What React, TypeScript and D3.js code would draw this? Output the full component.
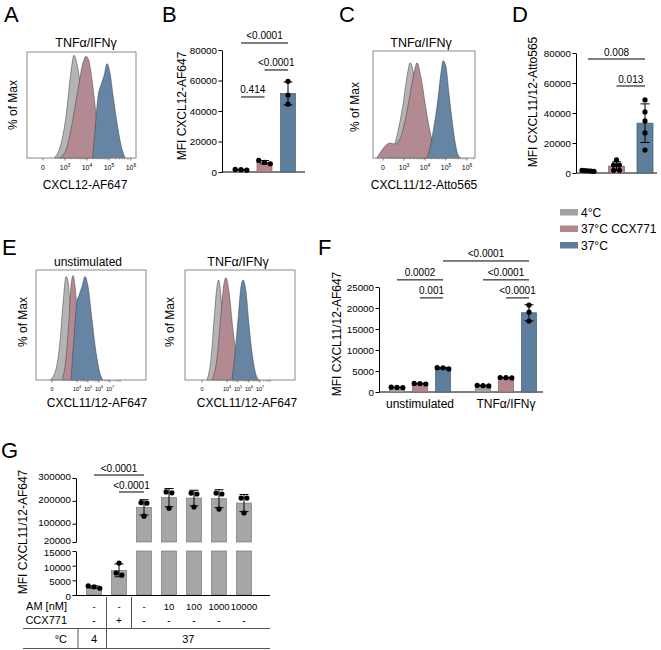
import React, { useRef, useEffect } from "react";
import * as d3 from "d3";

const FONT = "'Liberation Sans', Arial, Helvetica, sans-serif";

// legend / conditions
const conditions = ["4°C", "37°C CCX771", "37°C"];
const barFills = ["#a2a2a2", "#b5868e", "#5e7e9e"];
const histFills = ["#b4b4b4", "#b48a92", "#6685a5"];

type Pt = [number, number];

// A: histograms CXCL12-AF647 (x in decades, y in % of max)
const aGray: Pt[] = [[2.5, 0], [2.8, 12], [3.05, 40], [3.25, 78], [3.41, 97], [3.55, 88], [3.75, 62], [4.0, 32], [4.3, 10], [4.6, 0]];
const aPink: Pt[] = [[2.75, 0], [3.05, 8], [3.3, 30], [3.6, 66], [3.82, 90], [3.95, 96], [4.07, 93], [4.25, 70], [4.42, 40], [4.6, 13], [4.8, 2], [4.95, 0]];
const aBlue: Pt[] = [[4.25, 0], [4.36, 25], [4.5, 58], [4.64, 69], [4.78, 78], [4.91, 89], [5.05, 80], [5.18, 60], [5.36, 34], [5.55, 12], [5.73, 0]];
const histTicks = [2, 3, 4, 5, 6];
const histTickExp = [null, 3, 4, 5, 6];

// B: MFI CXCL12-AF647
const bReps = [[1200, 1500, 1700], [5400, 7600, 6300], [59500, 50500, 44500]];
const bTicks = [0, 20000, 40000, 60000, 80000];
const bComparisons: [number, number, number, string][] = [[0, 2, 84600, "<0.0001"], [1, 2, 66900, "<0.0001"], [0, 1, 49200, "0.414"]];

// C: histograms CXCL11/12-Atto565
const cGray: Pt[] = [[2.2, 0], [2.48, 8], [2.71, 25], [2.95, 50], [3.14, 76], [3.29, 89], [3.4, 84], [3.52, 70], [3.76, 45], [4.05, 20], [4.33, 5], [4.6, 0]];
const cPink: Pt[] = [[1.7, 0], [1.9, 6], [2.14, 12], [2.33, 14], [2.57, 13], [2.81, 18], [3.05, 35], [3.29, 60], [3.48, 80], [3.62, 89], [3.81, 75], [4.05, 45], [4.29, 20], [4.52, 7], [4.81, 3], [5.19, 2], [5.6, 0]];
const cBlue: Pt[] = [[4.1, 0], [4.24, 10], [4.43, 30], [4.62, 56], [4.76, 80], [4.86, 91], [5.0, 85], [5.14, 60], [5.29, 35], [5.43, 15], [5.57, 3], [5.7, 0]];

// D: MFI CXCL11/12-Atto565
const dReps = [[1500, 1800, 1300, 1600, 1100], [8700, 5300, 5300, 1800, 1800], [48700, 40700, 34700, 26700, 15300]];
const dTicks = [0, 20000, 40000, 60000, 80000];
const dComparisons: [number, number, number, string][] = [[0, 2, 76000, "0.008"], [1, 2, 58000, "0.013"]];

// E: histograms CXCL11/12-AF647
const e1Gray: Pt[] = [[1.55, 0], [2.09, 10], [2.45, 35], [2.73, 70], [3.0, 94], [3.18, 90], [3.36, 70], [3.64, 35], [3.91, 10], [4.18, 0]];
const e1Pink: Pt[] = [[2.64, 0], [3.0, 20], [3.27, 55], [3.45, 85], [3.64, 95], [3.82, 85], [4.09, 50], [4.36, 20], [4.64, 5], [4.91, 0]];
const e1Blue: Pt[] = [[3.45, 0], [3.73, 40], [4.0, 72], [4.18, 77], [4.45, 85], [4.73, 94], [5.0, 85], [5.36, 55], [5.73, 25], [6.09, 6], [6.36, 0]];
const e2Gray: Pt[] = [[2.18, 0], [2.55, 20], [2.82, 55], [3.09, 85], [3.23, 91], [3.36, 85], [3.64, 50], [4.0, 15], [4.36, 0]];
const e2Pink: Pt[] = [[2.64, 0], [3.09, 20], [3.45, 60], [3.73, 88], [3.91, 93], [4.18, 80], [4.55, 45], [4.91, 20], [5.36, 7], [5.91, 2], [6.55, 0]];
const e2Blue: Pt[] = [[4.45, 0], [4.73, 25], [5.0, 55], [5.27, 85], [5.45, 91], [5.73, 80], [6.0, 50], [6.27, 25], [6.55, 8], [6.91, 0]];
const eTicks = [1.73, 4, 5, 6, 7];
const eTickExp = [null, 4, 5, 6, 7];

// F: MFI CXCL11/12-AF647 by stimulation
const fGroups = ["unstimulated", "TNFα/IFNγ"];
const fReps = [
  [[1050, 1150, 1100], [1900, 2050, 2000], [5500, 5800, 5750]],
  [[1500, 1600, 1450], [3350, 3450, 3400], [20700, 19000, 16900]],
];
const fTicks = [0, 5000, 10000, 15000, 20000, 25000];
const fComparisons: [number, number, number, string][] = [[2, 5, 31200, "<0.0001"], [0, 2, 26700, "0.0002"], [1, 2, 22400, "0.001"], [3, 5, 26700, "<0.0001"], [4, 5, 22400, "<0.0001"]];

// G: AM dose series
const gReps = [[2300, 2800, 3100], [10900, 6800, 7500], [192000, 190000, 133000], [239000, 235000, 168000], [230000, 234000, 173000], [234000, 230000, 164000], [212000, 212000, 147000]];
const gAM = ["-", "-", "-", "10", "100", "1000", "10000"];
const gCCX = ["-", "+", "-", "-", "-", "-", "-"];
const gTemp = ["4", "37"];
const gTicksUpper = [20000, 100000, 200000, 300000];
const gTicksLower = [0, 5000, 10000, 15000];
const gComparisons: [number, number, number, string][] = [[0, 2, 313000, "<0.0001"], [1, 2, 238750, "<0.0001"]];

const App = () => {
  const svgRef = useRef<SVGSVGElement>(null);

  useEffect(() => {
    document.body.style.margin = "0";
    const svg = d3.select(svgRef.current);
    svg.selectAll("*").remove();
    const root = svg.append("g").attr("font-family", FONT).attr("fill", "#000");

    const label = (x: number, y: number, s: string, size: number, anchor = "middle") =>
      root.append("text").attr("x", x).attr("y", y).attr("font-size", size).attr("text-anchor", anchor).text(s);

    const vLabel = (x: number, y: number, s: string, size = 12) =>
      root.append("text").attr("transform", `translate(${x},${y}) rotate(-90)`)
        .attr("font-size", size).attr("text-anchor", "middle").text(s);

    // panel letters
    [["A", 4, 22], ["B", 162, 22], ["C", 339, 22], ["D", 512, 22], ["E", 2, 255], ["F", 318, 255], ["G", 1, 458]]
      .forEach(([s, x, y]) => label(x as number, y as number, s as string, 22, "start"));

    // ---------- histograms ----------
    const drawHist = (box: any, dom: number[], ticks: number[], exps: (number | null)[], curves: Pt[][], tickFs: number) => {
      const x = d3.scaleLinear().domain(dom).range([box.x0, box.x1]);
      const y = d3.scaleLinear().domain([0, 100]).range([box.y1, box.y0]);
      const area = d3.area<Pt>().x(d => x(d[0])).y0(box.y1).y1(d => y(d[1])).curve(d3.curveMonotoneX);
      curves.forEach((c, i) => {
        root.append("path").attr("d", area(c)).attr("fill", histFills[i])
          .attr("stroke", "#3a3a3a").attr("stroke-width", 0.5);
      });
      root.append("rect").attr("x", box.x0).attr("y", box.y0)
        .attr("width", box.x1 - box.x0).attr("height", box.y1 - box.y0)
        .attr("fill", "none").attr("stroke", "#8a8a8a").attr("stroke-width", 1);
      // minor ticks
      ticks.forEach((u, i) => {
        if (exps[i] === null) return;
        d3.range(2, 10).forEach(k => {
          const v = u + Math.log10(k);
          if (v < dom[1]) {
            root.append("line").attr("x1", x(v)).attr("x2", x(v)).attr("y1", box.y1).attr("y2", box.y1 + 1.5)
              .attr("stroke", "#777").attr("stroke-width", 0.5);
          }
        });
      });
      ticks.forEach((u, i) => {
        root.append("line").attr("x1", x(u)).attr("x2", x(u)).attr("y1", box.y1).attr("y2", box.y1 + 2.5)
          .attr("stroke", "#555").attr("stroke-width", 0.7);
        const t = root.append("text").attr("x", x(u)).attr("y", box.y1 + 5 + tickFs)
          .attr("font-size", tickFs).attr("text-anchor", "middle");
        if (exps[i] === null) t.text("0");
        else {
          t.append("tspan").text("10");
          t.append("tspan").attr("dy", -tickFs * 0.45).attr("font-size", tickFs * 0.7).text(String(exps[i]));
        }
      });
    };

    // A
    drawHist({ x0: 27, x1: 136, y0: 52, y1: 158 }, [1.27, 6.23], histTicks, histTickExp, [aGray, aPink, aBlue], 7);
    label(86, 47, "TNFα/IFNγ", 12.5);
    label(85, 189, "CXCL12-AF647", 12);
    vLabel(17, 105, "% of Max");

    // C
    drawHist({ x0: 373, x1: 475, y0: 51, y1: 158 }, [1.52, 6.38], histTicks, histTickExp, [cGray, cPink, cBlue], 7);
    label(421, 47, "TNFα/IFNγ", 12.5);
    label(424, 189, "CXCL11/12-Atto565", 12);
    vLabel(359, 107, "% of Max");

    // E
    drawHist({ x0: 36, x1: 146, y0: 270, y1: 380 }, [0.27, 10.27], eTicks, eTickExp, [e1Gray, e1Pink, e1Blue], 5.5);
    label(88, 266, "unstimulated", 12);
    label(97, 407, "CXCL11/12-AF647", 12);
    vLabel(27, 322, "% of Max");
    drawHist({ x0: 185, x1: 295, y0: 270, y1: 380 }, [0.18, 10.18], eTicks, eTickExp, [e2Gray, e2Pink, e2Blue], 5.5);
    label(238, 266, "TNFα/IFNγ", 12.5);
    label(247, 407, "CXCL11/12-AF647", 12);
    vLabel(174, 322, "% of Max");

    // ---------- bar helpers ----------
    const yAxis = (x0: number, scale: any, ticks: number[], nudge = 0) => {
      const ax = root.append("g").attr("transform", `translate(${x0},0)`)
        .call(d3.axisLeft(scale).tickValues(ticks).tickFormat(d3.format("d")).tickSize(3.5).tickSizeOuter(0).tickPadding(1.5));
      ax.attr("font-family", FONT).attr("font-size", 9.8);
      ax.selectAll("path, line").attr("stroke", "#000");
      if (nudge) ax.selectAll(".tick text").attr("transform", `translate(0,${nudge})`);
      return ax;
    };

    const swarm = (vals: number[], yFn: (v: number) => number, r: number, maxSpan: number) => {
      const items = vals.map(v => ({ v, py: yFn(v), dx: 0 })).sort((a, b) => a.py - b.py);
      const clusters: typeof items[] = [];
      items.forEach(it => {
        const last = clusters[clusters.length - 1];
        if (last && it.py - last[last.length - 1].py < r * 1.7) last.push(it);
        else clusters.push([it]);
      });
      clusters.forEach(c => {
        const step = c.length > 1 ? Math.min(2 * r + 0.6, maxSpan / (c.length - 1)) : 0;
        c.forEach((it, i) => { it.dx = (i - (c.length - 1) / 2) * step; });
      });
      return items;
    };

    const errAndDots = (cx: number, reps: number[], yFn: (v: number) => number, r: number, span: number) => {
      const m = d3.mean(reps) as number;
      const sd = d3.deviation(reps) as number;
      const yt = yFn(m + sd), yb = yFn(m - sd);
      root.append("line").attr("x1", cx).attr("x2", cx).attr("y1", yt).attr("y2", yb).attr("stroke", "#000").attr("stroke-width", 1);
      [yt, yb].forEach(yy => root.append("line").attr("x1", cx - 4.5).attr("x2", cx + 4.5).attr("y1", yy).attr("y2", yy).attr("stroke", "#000").attr("stroke-width", 1));
      swarm(reps, yFn, r, span).forEach(it => {
        root.append("circle").attr("cx", cx + it.dx).attr("cy", it.py).attr("r", r).attr("fill", "#000");
      });
    };

    const bar = (cx: number, w: number, yTop: number, yBot: number, fill: string) => {
      root.append("rect").attr("x", cx - w / 2).attr("y", yTop).attr("width", w).attr("height", yBot - yTop)
        .attr("fill", fill).attr("stroke", d3.color(fill)!.darker(0.9).formatHex()).attr("stroke-width", 0.7);
    };

    const sig = (x1: number, x2: number, yy: number, s: string) => {
      root.append("line").attr("x1", x1).attr("x2", x2).attr("y1", yy).attr("y2", yy).attr("stroke", "#000").attr("stroke-width", 1);
      label((x1 + x2) / 2, yy - 3.5, s, 10);
    };

    // ---------- B ----------
    {
      const y = d3.scaleLinear().domain([0, 80000]).range([172, 50]);
      const x = d3.scalePoint<number>().domain([0, 1, 2]).range([241, 288]);
      root.append("line").attr("x1", 222).attr("x2", 305).attr("y1", 172).attr("y2", 172).attr("stroke", "#000");
      bReps.forEach((reps, i) => {
        const m = d3.mean(reps) as number;
        bar(x(i)!, 15, y(m), y(0), barFills[i]);
        errAndDots(x(i)!, reps, y, 2.6, 12);
      });
      yAxis(222, y, bTicks);
      bComparisons.forEach(([a, b, lv, s]) => sig(x(a)!, x(b)!, y(lv), s));
      vLabel(186, 106, "MFI CXCL12-AF647");
    }

    // ---------- D ----------
    {
      const y = d3.scaleLinear().domain([0, 80000]).range([173, 53]);
      const x = d3.scalePoint<number>().domain([0, 1, 2]).range([588, 645]);
      root.append("line").attr("x1", 576).attr("x2", 657).attr("y1", 173).attr("y2", 173).attr("stroke", "#000");
      dReps.forEach((reps, i) => {
        const m = d3.mean(reps) as number;
        bar(x(i)!, 16, y(m), y(0), barFills[i]);
        errAndDots(x(i)!, reps, y, 2.6, 12);
      });
      yAxis(576, y, dTicks);
      dComparisons.forEach(([a, b, lv, s]) => sig(x(a)!, x(b)!, y(lv), s));
      vLabel(537, 102, "MFI CXCL11/12-Atto565");
    }

    // ---------- legend ----------
    conditions.forEach((c, i) => {
      const yy = 209 + i * 16.5;
      root.append("rect").attr("x", 560).attr("y", yy).attr("width", 18).attr("height", 6.5).attr("fill", barFills[i]);
      label(581, yy + 7.5, c, 12, "start");
    });

    // ---------- F ----------
    {
      const y = d3.scaleLinear().domain([0, 25000]).range([392, 287]);
      const gx = d3.scalePoint<string>().domain(fGroups).range([420, 506]);
      const inner = d3.scalePoint<number>().domain([0, 1, 2]).range([-23, 23]);
      const cx = (k: number) => gx(fGroups[Math.floor(k / 3)])! + inner(k % 3)!;
      root.append("line").attr("x1", 379).attr("x2", 543).attr("y1", 392).attr("y2", 392).attr("stroke", "#000");
      fReps.forEach((grp, g) => grp.forEach((reps, c) => {
        const m = d3.mean(reps) as number;
        bar(cx(g * 3 + c), 15, y(m), y(0), barFills[c]);
        errAndDots(cx(g * 3 + c), reps, y, 2.6, 12);
      }));
      yAxis(379, y, fTicks);
      fComparisons.forEach(([a, b, lv, s]) => sig(cx(a), cx(b), y(lv), s));
      fGroups.forEach(g => label(gx(g)!, 408, g, 12));
      vLabel(341, 334, "MFI CXCL11/12-AF647");
    }

    // ---------- G ----------
    {
      const yUp = d3.scaleLinear().domain([20000, 300000]).range([542, 478]);
      const yLo = d3.scaleLinear().domain([0, 15000]).range([595, 551]);
      const yAny = (v: number) => (v >= 17500 ? yUp(v) : yLo(v));
      const x = d3.scalePoint<number>().domain(d3.range(gReps.length)).range([94, 244]);
      gReps.forEach((reps, i) => {
        const m = d3.mean(reps) as number;
        if (m > 20000) {
          bar(x(i)!, 15, yUp(m), yUp(20000), "#a6a6a6");
          bar(x(i)!, 15, yLo(15000), yLo(0), "#a6a6a6");
        } else {
          bar(x(i)!, 15, yLo(m), yLo(0), "#a6a6a6");
        }
        errAndDots(x(i)!, reps, yAny, 2.6, 12);
      });
      yAxis(76, yUp, gTicksUpper, -1.2);
      yAxis(76, yLo, gTicksLower, 1.2);
      root.append("line").attr("x1", 76).attr("x2", 270).attr("y1", 595.5).attr("y2", 595.5).attr("stroke", "#000");
      gComparisons.forEach(([a, b, lv, s]) => sig(x(a)!, x(b)!, yUp(lv), s));
      vLabel(27, 532, "MFI CXCL11/12-AF647");

      // treatment table
      label(67, 610, "AM [nM]", 11, "end");
      label(67, 624, "CCX771", 11, "end");
      label(67, 643, "°C", 11, "end");
      gAM.forEach((s, i) => label(x(i)!, 610, s, 9.5));
      gCCX.forEach((s, i) => label(x(i)!, 624, s, 10));
      const split1 = (x(0)! + x(1)!) / 2;
      const split2 = (x(1)! + x(2)!) / 2;
      label(x(0)!, 643, gTemp[0], 11);
      label((split1 + 270) / 2, 643, gTemp[1], 11);
      const ln = (x1: number, y1: number, x2: number, y2: number) =>
        root.append("line").attr("x1", x1).attr("y1", y1).attr("x2", x2).attr("y2", y2).attr("stroke", "#555").attr("stroke-width", 1);
      ln(23, 628.5, 270, 628.5);
      ln(23, 648.5, 270, 648.5);
      ln(split1, 597, split1, 648.5);
      ln(split2, 597, split2, 628.5);
      ln(78, 629, 78, 648.5);
    }
  }, []);

  return <svg ref={svgRef} width={661} height={650} style={{ display: "block", background: "#fff" }}></svg>;
};

export default App;
